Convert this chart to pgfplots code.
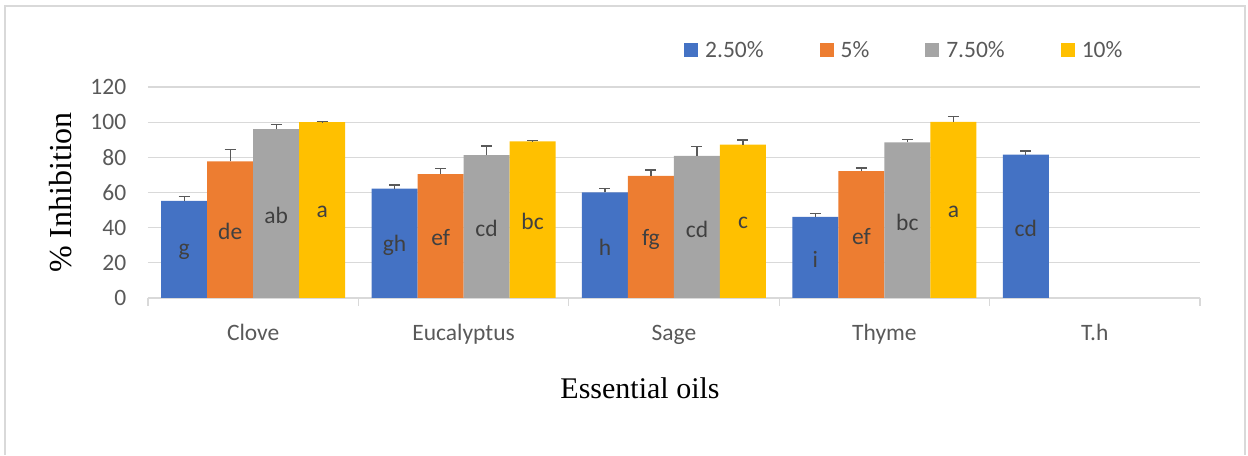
\documentclass[border=0pt]{standalone}
\usepackage{fontspec}
\setmainfont{Carlito}
\newfontfamily\timesf{Liberation Serif}
\usepackage{pgfplots}
\usepackage{pgfplotstable}
\pgfplotsset{compat=1.18}
\definecolor{cblue}{HTML}{4472C4}
\definecolor{corange}{HTML}{ED7D31}
\definecolor{cgrey}{HTML}{A5A5A5}
\definecolor{cyellow}{HTML}{FFC000}
\definecolor{gridc}{HTML}{D9D9D9}
\definecolor{tickc}{HTML}{595959}
\definecolor{labc}{HTML}{404040}
\definecolor{errc}{HTML}{595959}

\pgfplotstableread{
x y e l
0 55.2 2.4 g
1 62.2 2.1 gh
2 60.1 2.1 h
3 46.1 1.9 i
4 81.5 2.1 cd
}\tA
\pgfplotstableread{
x y e l
0 77.7 6.7 de
1 70.5 3.1 ef
2 69.4 3.4 fg
3 72.2 1.7 ef
}\tB
\pgfplotstableread{
x y e l
0 96.0 2.6 ab
1 81.2 5.3 cd
2 80.8 5.3 cd
3 88.5 1.5 bc
}\tC
\pgfplotstableread{
x y e l
0 100.0 0.2 a
1 89.1 0.3 bc
2 87.2 2.7 c
3 100.1 3.2 a
}\tD

\newcommand{\lfont}{\fontsize{23.5bp}{28bp}\selectfont}

\pgfplotsset{
  mybar/.style={
    draw=none, fill=#1,
    legend image code/.code={\fill[#1] (0bp,-7bp) rectangle (14bp,7bp); \path (19bp,0bp);},
    error bars/y dir=plus, error bars/y explicit,
    error bars/error bar style={errc, line width=1.3bp},
    error bars/error mark options={errc, line width=1.3bp, mark size=5.5bp, rotate=90},
  }
}

\begin{document}
\begin{tikzpicture}[x=1bp,y=1bp]
\begin{axis}[
  at={(0,0)}, anchor=south west,
  scale only axis, width=1052bp, height=211bp,
  ymin=0, ymax=120, xmin=-0.5, xmax=4.5,
  ybar=0pt, bar width=46bp,
  ytick={0,20,...,120},
  ymajorgrids, grid style={gridc, line width=1.2bp},
  axis x line=bottom, axis y line=left,
  x axis line style={-, gridc, line width=1.2bp},
  y axis line style={draw=none},
  xtick={0,...,4}, xticklabels={Clove,Eucalyptus,Sage,Thyme,T.h},
  major x tick style={draw=none},
  minor xtick={-0.5,0.5,...,4.5},
  minor x tick style={gridc, line width=1.2bp},
  minor tick length=8bp,
  tick align=outside,
  ytick style={draw=none},
  tick label style={color=tickc, font=\lfont},
  yticklabel style={anchor=east, xshift=-14bp},
  xticklabel style={yshift=-19bp, text height=16bp, text depth=5bp},
  /pgf/number format/assume math mode=true,
  ylabel={\% Inhibition},
  ylabel style={at={(axis description cs:-0.0827,0.5)}, anchor=center, font=\timesf\fontsize{32bp}{36bp}\selectfont},
  xlabel={Essential oils},
  xlabel style={at={(axis description cs:0.4677,-0.4265)}, anchor=center, font=\timesf\fontsize{30bp}{34bp}\selectfont},
  legend columns=4,
  legend style={at={(axis description cs:0.5095,1.175)}, anchor=west, draw=none, fill=none, inner sep=0pt,
    font=\lfont, text=tickc, /tikz/every even column/.append style={column sep=54bp}},
  nodes near coords, point meta=explicit symbolic,
  visualization depends on={rawy \as \rawy},
  every node near coord/.append style={anchor=center, color=labc, font=\lfont, yshift=-0.879166bp*\rawy-2bp},
]
\addplot[mybar=cblue] table[x=x, y=y, y error=e, meta=l] {\tA};
\addplot[mybar=corange] table[x=x, y=y, y error=e, meta=l] {\tB};
\addplot[mybar=cgrey] table[x=x, y=y, y error=e, meta=l] {\tC};
\addplot[mybar=cyellow] table[x=x, y=y, y error=e, meta=l] {\tD};
\legend{2.50\%,5\%,7.50\%,10\%}
\end{axis}
\path (-148,-157) rectangle (1100,298);
\draw[gridc, line width=1.3bp] (-143,-157) -- (-143,292) -- (1097,292) -- (1097,-157);
\end{tikzpicture}
\end{document}
